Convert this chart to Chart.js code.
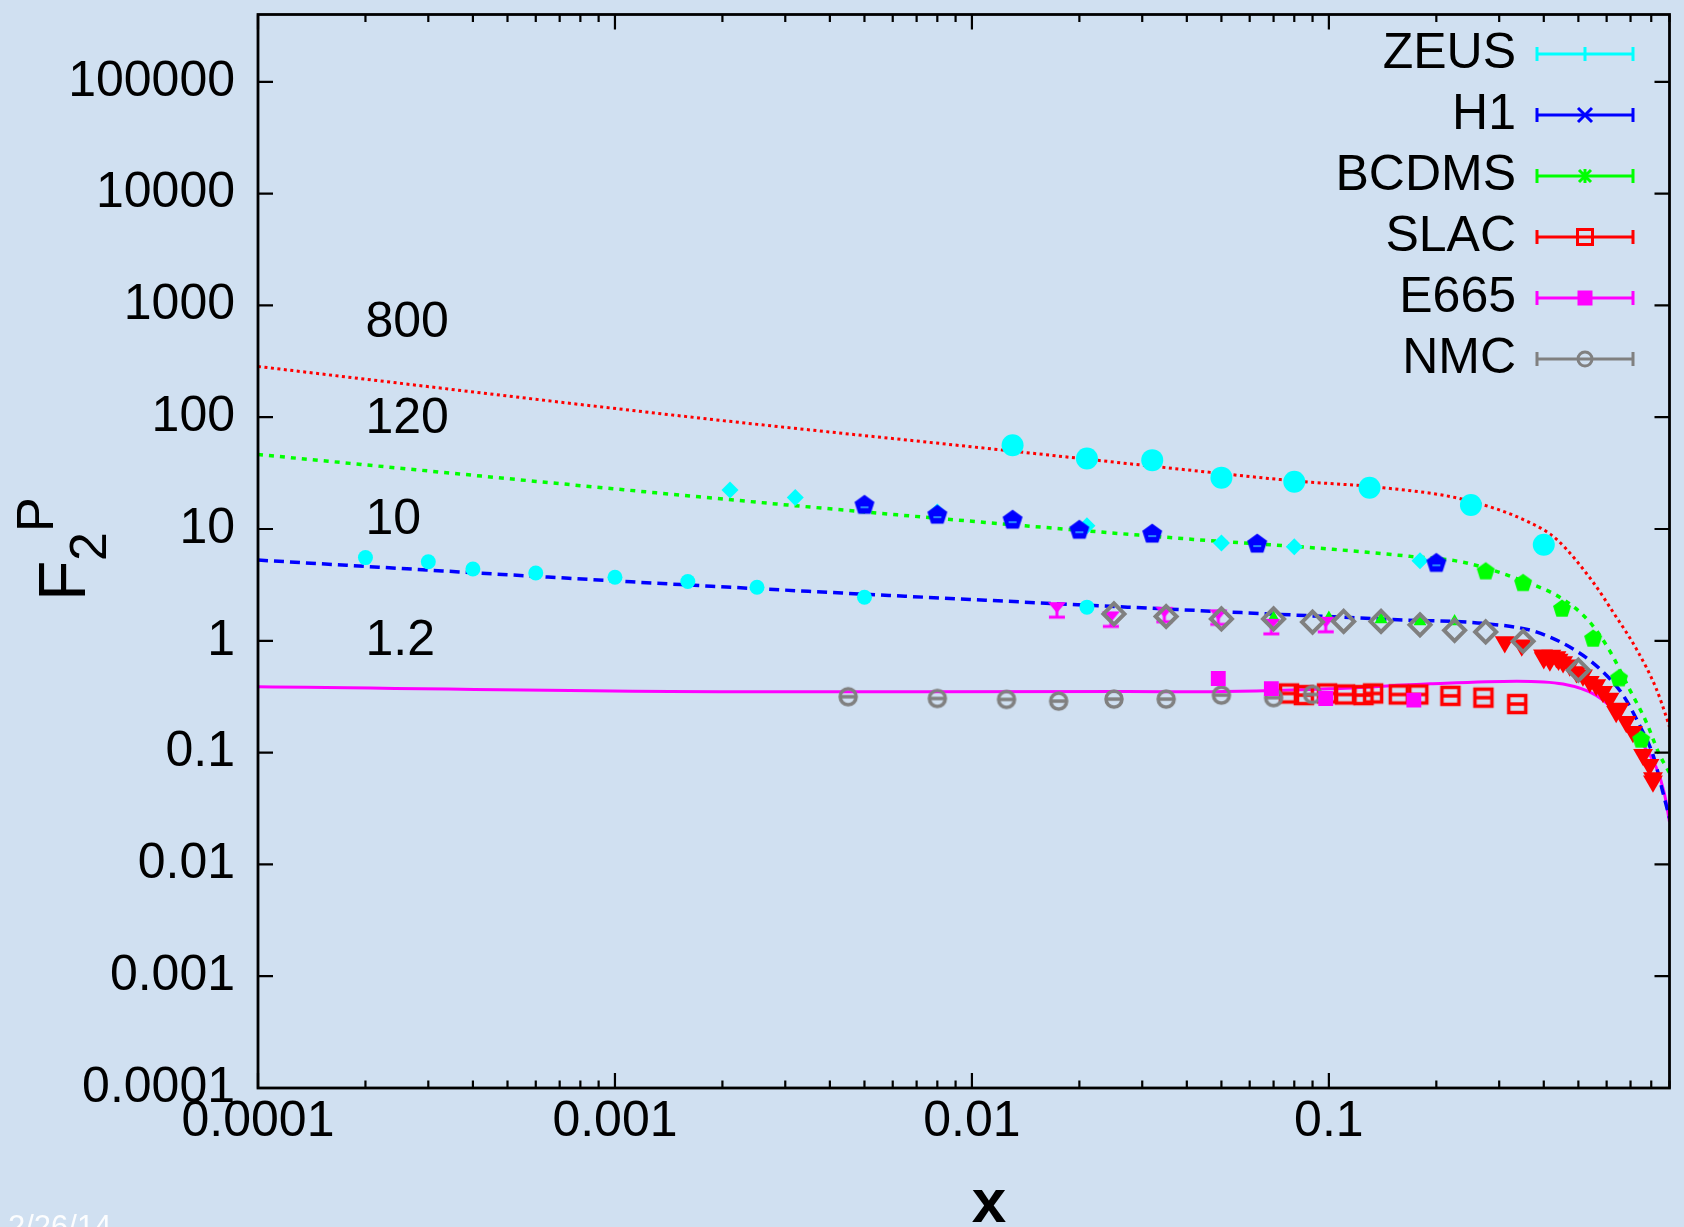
<!DOCTYPE html>
<html>
<head>
<meta charset="utf-8">
<title>F2 proton</title>
<script src="https://cdn.jsdelivr.net/npm/chart.js@4.4.0/dist/chart.umd.min.js"></script>
<style>
  html, body { margin: 0; padding: 0; background: #d0e0f1; }
  #wrap { width: 1684px; height: 1227px; }
</style>
</head>
<body>
<div id="wrap"><canvas id="f2Chart" width="1684" height="1227"></canvas></div>
<script>
// axis ranges and tick labels
const xMin = 1e-4, xMax = 0.9;
const yMin = 1e-4, yMax = 4e5;
const xTickValues = [1e-4, 1e-3, 1e-2, 1e-1];
const xTickLabels = ['0.0001', '0.001', '0.01', '0.1'];
const yTickValues = [1e-4, 1e-3, 1e-2, 1e-1, 1, 10, 100, 1000, 10000, 100000];
const yTickLabels = ['0.0001', '0.001', '0.01', '0.1', '1', '10', '100', '1000', '10000', '100000'];

// ZEUS
const zeusX800 = [0.013, 0.021, 0.032, 0.05, 0.08, 0.13, 0.25, 0.40];
const zeusF800 = [56.2, 42.7, 41.3, 28.8, 26.5, 23.4, 16.4, 7.23];
const zeusX120 = [0.0021, 0.0032, 0.008, 0.021, 0.05, 0.08, 0.18];
const zeusF120 = [22.3, 19.1, 14.2, 10.7, 7.48, 6.95, 5.21];
const zeusX10 = [0.0002, 0.0003, 0.0004, 0.0006, 0.001, 0.0016, 0.0025, 0.005, 0.021];
const zeusF10 = [5.55, 5.10, 4.39, 4.04, 3.70, 3.39, 3.01, 2.45, 2.0];
// H1
const h1X120 = [0.005, 0.008, 0.013, 0.020, 0.032, 0.063, 0.200];
const h1F120 = [16.3, 13.3, 12.0, 9.75, 9.0, 7.33, 4.93];
// BCDMS
const bcdmsX120 = [0.275, 0.35, 0.45, 0.55, 0.65, 0.75];
const bcdmsF120 = [4.16, 3.27, 1.93, 1.04, 0.46, 0.13];
const bcdmsX10 = [0.07, 0.10, 0.14, 0.18, 0.225];
const bcdmsF10 = [1.60, 1.60, 1.55, 1.49, 1.49];
// SLAC
const slacXhi = [0.311, 0.347, 0.398, 0.40, 0.416, 0.42, 0.434, 0.44, 0.453, 0.473, 0.494, 0.515, 0.538, 0.561,
                 0.586, 0.611, 0.638, 0.652, 0.681, 0.711, 0.759, 0.791, 0.809, 0.809];
const slacFhi = [0.975, 0.912, 0.743, 0.70, 0.670, 0.74, 0.718, 0.68, 0.647, 0.605, 0.527, 0.493, 0.430, 0.402,
                 0.350, 0.305, 0.232, 0.248, 0.189, 0.154, 0.0955, 0.0778, 0.0592, 0.0553];
const slacX12 = [0.0773, 0.0851, 0.0988, 0.111, 0.125, 0.133, 0.157, 0.178, 0.219, 0.271, 0.337];
const slacF12 = [0.338, 0.327, 0.338, 0.331, 0.327, 0.338, 0.331, 0.331, 0.322, 0.310, 0.272];
// E665
const e665X10 = [0.0173, 0.0245, 0.0346, 0.049, 0.069, 0.098];
const e665F10 = [1.96, 1.62, 1.78, 1.69, 1.39, 1.45];
const e665X12 = [0.049, 0.069, 0.098, 0.173];
const e665F12 = [0.46, 0.374, 0.305, 0.295];
// NMC
const nmcX10 = [0.025, 0.035, 0.05, 0.07, 0.09, 0.11, 0.14, 0.18, 0.225, 0.275, 0.35, 0.50];
const nmcF10 = [1.74, 1.65, 1.57, 1.57, 1.47, 1.49, 1.49, 1.39, 1.24, 1.20, 0.99, 0.546];
const nmcX12 = [0.0045, 0.008, 0.0125, 0.0175, 0.025, 0.035, 0.05, 0.07, 0.09];
const nmcF12 = [0.316, 0.305, 0.299, 0.289, 0.301, 0.301, 0.327, 0.31, 0.331];

// fit curves for Q2 = 800, 120, 10, 1.2
const fitX800 = [1e-4, 0.00172, 0.0118, 0.0429, 0.0815, 0.142, 0.238, 0.366, 0.434, 0.55, 0.625, 0.726, 0.826, 0.881, 0.9];
const fitF800 = [284, 98.4, 51.4, 33.0, 26.8, 23.4, 18.4, 11.4, 8.11, 3.34, 1.81, 0.851, 0.374, 0.21, 0.17];
const fitX120 = [1e-4, 0.00172, 0.0077, 0.0429, 0.101, 0.169, 0.238, 0.336, 0.453, 0.538, 0.611, 0.695, 0.774, 0.843, 0.9];
const fitF120 = [46.4, 19.4, 12.6, 8.02, 6.61, 5.69, 5.04, 3.6, 2.35, 1.47, 0.822, 0.37, 0.189, 0.0964, 0.066];
const fitX10 = [1e-4, 0.00172, 0.0273, 0.150, 0.277, 0.381, 0.50, 0.586, 0.667, 0.741, 0.809, 0.861, 0.9];
const fitF10 = [5.27, 3.12, 2.0, 1.55, 1.42, 1.20, 0.79, 0.527, 0.327, 0.177, 0.0955, 0.0451, 0.026];
const fitX12 = [1e-4, 0.00237, 0.0273, 0.0429, 0.101, 0.192, 0.336, 0.453, 0.561, 0.667, 0.759, 0.826, 0.871, 0.9];
const fitF12 = [0.388, 0.350, 0.352, 0.350, 0.372, 0.412, 0.435, 0.41, 0.325, 0.20, 0.117, 0.074, 0.043, 0.024];

// Q2 labels next to the curves
const curveLabels = ['800', '120', '10', '1.2'];
const curveLabelX = 0.0002;
const curveLabelY = [700, 96, 12, 1.0];

// legend
const legendNames = ['ZEUS', 'H1', 'BCDMS', 'SLAC', 'E665', 'NMC'];
const legendColors = ['#00ffff', '#0000ff', '#00ff00', '#ff0000', '#ff00ff', '#808080'];
const legendMarkers = ['plus', 'cross', 'star', 'openSquare', 'square', 'openCircle'];

const bgColor = '#d0e0f1';
const fontFamily = "'Liberation Sans', Arial, Helvetica, sans-serif";
const CYAN = '#00ffff', BLUE = '#0000ff', GREEN = '#00ff00', RED = '#ff0000', MAGENTA = '#ff00ff', GRAY = '#808080';

function xy(xs, ys) {
    return xs.map((x, i) => ({ x: x, y: ys[i] }));
}

// small canvases used as point styles for the gnuplot-like symbols
function markerCanvas(size, draw) {
    const c = document.createElement('canvas');
    c.width = size;
    c.height = size;
    const g = c.getContext('2d');
    g.translate(size / 2, size / 2);
    draw(g);
    return c;
}

function pentagonPath(g, r) {
    g.beginPath();
    for (let i = 0; i < 5; i++) {
        const a = -Math.PI / 2 + i * 2 * Math.PI / 5;
        g.lineTo(r * Math.cos(a), r * Math.sin(a));
    }
    g.closePath();
}

const h1Pentagon = markerCanvas(24, g => {
    pentagonPath(g, 10.5);
    g.fillStyle = BLUE;
    g.fill();
    g.strokeStyle = '#38b4ff';
    g.lineWidth = 1.5;
    g.beginPath();
    g.moveTo(-4, 2); g.lineTo(4, 2);
    g.stroke();
});

const bcdmsPentagon = markerCanvas(22, g => {
    pentagonPath(g, 9.5);
    g.fillStyle = GREEN;
    g.fill();
});

const slacSquare = markerCanvas(24, g => {
    g.strokeStyle = RED;
    g.lineWidth = 3.5;
    g.strokeRect(-8.5, -8.5, 17, 17);
    g.beginPath();
    g.moveTo(-8.5, 0); g.lineTo(8.5, 0);
    g.stroke();
});

const nmcCircle = markerCanvas(24, g => {
    g.strokeStyle = GRAY;
    g.lineWidth = 3.5;
    g.beginPath();
    g.arc(0, 0, 8, 0, Math.PI * 2);
    g.stroke();
    g.beginPath();
    g.moveTo(-8, 0); g.lineTo(8, 0);
    g.stroke();
});

const e665Triangle = markerCanvas(24, g => {
    g.fillStyle = MAGENTA;
    g.beginPath();
    g.moveTo(-9, -6); g.lineTo(9, -6); g.lineTo(0, 5);
    g.closePath();
    g.fill();
    g.strokeStyle = MAGENTA;
    g.lineWidth = 3;
    g.beginPath();
    g.moveTo(0, 2); g.lineTo(0, 9);
    g.moveTo(-8, 9); g.lineTo(8, 9);
    g.stroke();
});

function points(data, style) {
    return Object.assign({ data: data, showLine: false, pointBorderWidth: 0 }, style);
}

function curve(data, color, width, dash) {
    return {
        data: data,
        showLine: true,
        borderColor: color,
        borderWidth: width,
        borderDash: dash,
        borderCapStyle: 'butt',
        pointRadius: 0,
        fill: false,
        cubicInterpolationMode: 'monotone'
    };
}

// the first datasets are drawn on top
const datasets = [
    points(xy(nmcX10, nmcF10), { pointStyle: 'rectRot', pointRadius: 10.5, pointBorderWidth: 4,
        pointBorderColor: GRAY, pointBackgroundColor: 'rgba(0,0,0,0)' }),
    points(xy(h1X120, h1F120), { pointStyle: h1Pentagon }),
    points(xy(e665X12, e665F12), { pointStyle: 'rect', pointRadius: 10.5, pointBackgroundColor: MAGENTA }),
    points(xy(nmcX12, nmcF12), { pointStyle: nmcCircle }),
    points(xy(e665X10, e665F10), { pointStyle: e665Triangle }),
    points(xy(bcdmsX120, bcdmsF120), { pointStyle: bcdmsPentagon }),
    points(xy(bcdmsX10, bcdmsF10), { pointStyle: 'triangle', pointRadius: 7.5, pointBackgroundColor: GREEN }),
    points(xy(slacXhi, slacFhi), { pointStyle: 'triangle', pointRotation: 180, pointRadius: 11.5,
        pointBackgroundColor: RED }),
    points(xy(slacX12, slacF12), { pointStyle: slacSquare }),
    points(xy(zeusX800, zeusF800), { pointStyle: 'circle', pointRadius: 11, pointBackgroundColor: CYAN }),
    points(xy(zeusX120, zeusF120), { pointStyle: 'rectRot', pointRadius: 8.5, pointBackgroundColor: CYAN }),
    points(xy(zeusX10, zeusF10), { pointStyle: 'circle', pointRadius: 7.5, pointBackgroundColor: CYAN }),
    curve(xy(fitX800, fitF800), RED, 3, [3, 3.5]),
    curve(xy(fitX120, fitF120), GREEN, 3.5, [5, 6]),
    curve(xy(fitX10, fitF10), BLUE, 3.5, [10, 6]),
    curve(xy(fitX12, fitF12), MAGENTA, 3, [])
];

function drawLegendMarker(ctx, kind, x, y, color) {
    ctx.save();
    ctx.translate(x, y);
    ctx.strokeStyle = color;
    ctx.fillStyle = color;
    ctx.lineWidth = 3;
    ctx.beginPath();
    if (kind === 'plus') {
        ctx.moveTo(0, -7); ctx.lineTo(0, 7);
        ctx.stroke();
    } else if (kind === 'cross') {
        ctx.moveTo(-7, -7); ctx.lineTo(7, 7);
        ctx.moveTo(-7, 7); ctx.lineTo(7, -7);
        ctx.stroke();
    } else if (kind === 'star') {
        ctx.moveTo(0, -7); ctx.lineTo(0, 7);
        ctx.moveTo(-6, -6); ctx.lineTo(6, 6);
        ctx.moveTo(-6, 6); ctx.lineTo(6, -6);
        ctx.stroke();
    } else if (kind === 'openSquare') {
        ctx.strokeRect(-7.5, -7.5, 15, 15);
    } else if (kind === 'square') {
        ctx.fillRect(-7.5, -7.5, 15, 15);
    } else if (kind === 'openCircle') {
        ctx.arc(0, 0, 7, 0, Math.PI * 2);
        ctx.stroke();
    }
    ctx.restore();
}

const gnuFrame = {
    id: 'gnuFrame',
    beforeDraw(chart) {
        const ctx = chart.ctx;
        ctx.save();
        ctx.fillStyle = bgColor;
        ctx.fillRect(0, 0, chart.width, chart.height);
        ctx.restore();
    },
    afterDraw(chart) {
        const ctx = chart.ctx;
        const a = chart.chartArea;
        const xs = chart.scales.x, ys = chart.scales.y;
        ctx.save();

        // border and inward ticks, mirrored on top and right
        ctx.strokeStyle = '#000';
        ctx.lineWidth = 2.8;
        ctx.strokeRect(a.left, a.top, a.right - a.left, a.bottom - a.top);
        ctx.lineWidth = 2.2;
        ctx.beginPath();
        yTickValues.forEach(v => {
            const py = ys.getPixelForValue(v);
            ctx.moveTo(a.left, py); ctx.lineTo(a.left + 15, py);
            ctx.moveTo(a.right, py); ctx.lineTo(a.right - 15, py);
        });
        xTickValues.forEach(d => {
            for (let k = 1; k <= 9; k++) {
                const v = d * k;
                if (v > xMax) break;
                const px = xs.getPixelForValue(v);
                const len = k === 1 ? 15 : 7.5;
                ctx.moveTo(px, a.bottom); ctx.lineTo(px, a.bottom - len);
                ctx.moveTo(px, a.top); ctx.lineTo(px, a.top + len);
            }
        });
        ctx.stroke();

        // Q2 values of the curves
        ctx.fillStyle = '#000';
        ctx.font = '50px ' + fontFamily;
        ctx.textAlign = 'left';
        ctx.textBaseline = 'middle';
        curveLabels.forEach((t, i) => {
            ctx.fillText(t, xs.getPixelForValue(curveLabelX), ys.getPixelForValue(curveLabelY[i]));
        });

        // legend, text right-aligned with an error-bar sample on its right
        ctx.textAlign = 'right';
        legendNames.forEach((name, i) => {
            const y = 54 + i * 61;
            const c = legendColors[i];
            ctx.fillStyle = '#000';
            ctx.fillText(name, 1516, y);
            ctx.strokeStyle = c;
            ctx.lineWidth = 3;
            ctx.beginPath();
            ctx.moveTo(1537, y); ctx.lineTo(1633, y);
            ctx.moveTo(1537, y - 7); ctx.lineTo(1537, y + 7);
            ctx.moveTo(1633, y - 7); ctx.lineTo(1633, y + 7);
            ctx.stroke();
            drawLegendMarker(ctx, legendMarkers[i], 1585, y, c);
        });

        // x axis title
        ctx.fillStyle = '#000';
        ctx.textAlign = 'center';
        ctx.textBaseline = 'alphabetic';
        ctx.font = 'bold 62px ' + fontFamily;
        ctx.fillText('x', 989, 1222);

        // y axis title F_2^P, rotated
        ctx.save();
        ctx.translate(85, 601);
        ctx.rotate(-Math.PI / 2);
        ctx.textAlign = 'left';
        ctx.font = '66px ' + fontFamily;
        ctx.fillText('F', 0, 0);
        ctx.font = '52px ' + fontFamily;
        ctx.fillText('2', 40, 21);
        ctx.fillText('P', 69, -32);
        ctx.restore();

        // date stamp
        ctx.fillStyle = 'rgba(255,255,255,0.92)';
        ctx.font = '31px ' + fontFamily;
        ctx.textAlign = 'left';
        ctx.fillText('2/26/14', 8, 1237);

        ctx.restore();
    }
};

Chart.defaults.font.family = fontFamily;

new Chart(document.getElementById('f2Chart'), {
    type: 'scatter',
    data: { datasets: datasets },
    options: {
        responsive: false,
        devicePixelRatio: 1,
        animation: false,
        events: [],
        layout: { padding: { top: 10, right: 11, left: 0, bottom: 0 } },
        plugins: {
            legend: { display: false },
            tooltip: { enabled: false }
        },
        scales: {
            x: {
                type: 'logarithmic',
                position: 'bottom',
                min: xMin,
                max: xMax,
                grid: { display: false, drawTicks: false },
                border: { display: false },
                afterBuildTicks: s => { s.ticks = xTickValues.map(v => ({ value: v })); },
                afterFit: s => {
                    s.height = 139;
                    s.paddingLeft = 0;
                    s.paddingRight = 0;
                },
                ticks: {
                    autoSkip: false,
                    maxRotation: 0,
                    padding: 4,
                    color: '#000',
                    font: { size: 50, lineHeight: 1.2 },
                    callback: v => xTickLabels[xTickValues.indexOf(v)] || ''
                }
            },
            y: {
                type: 'logarithmic',
                position: 'left',
                min: yMin,
                max: yMax,
                grid: { display: false, drawTicks: false },
                border: { display: false },
                afterBuildTicks: s => { s.ticks = yTickValues.map(v => ({ value: v })); },
                afterFit: s => {
                    s.width = 258;
                    s.paddingTop = 0;
                    s.paddingBottom = 0;
                },
                ticks: {
                    autoSkip: false,
                    padding: 23,
                    color: '#000',
                    font: { size: 50 },
                    callback: v => yTickLabels[yTickValues.indexOf(v)] || ''
                }
            }
        }
    },
    plugins: [gnuFrame]
});
</script>
</body>
</html>
